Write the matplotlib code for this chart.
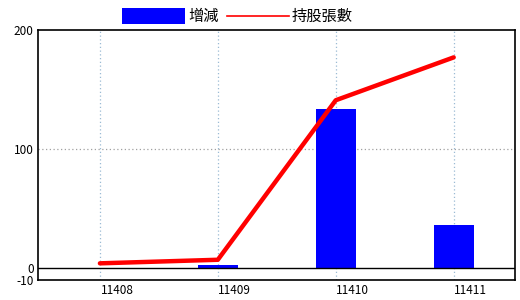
import matplotlib
matplotlib.use('Agg')
import matplotlib.pyplot as plt
import matplotlib.patches as patches
import matplotlib.transforms as mtransforms
from matplotlib.lines import Line2D

plt.rcParams['font.family'] = ['Noto Sans CJK TC', 'DejaVu Sans']

# dane
months = ['11408', '11409', '11410', '11411']
change = [0, 3, 134, 36]          # 增減
holdings = [4, 7, 141, 177]       # 持股張數
y_ticks = [-10, 0, 100, 200]

fig = plt.figure(figsize=(5.2, 3.0), dpi=100)
ax = fig.add_axes([38 / 520, 20 / 300, 477 / 520, 250 / 300])

x = list(range(len(months)))
ax.bar(x, change, width=0.34, color='#0000ff', zorder=2)
ax.plot(x, holdings, color='#ff0000', lw=3.2, zorder=3, solid_capstyle='round')

ax.set_xlim(-0.525, 3.52)
ax.set_ylim(-10, 200)
ax.axhline(0, color='black', lw=1.0, zorder=2)

# siatka
for xi in x:
    ax.axvline(xi, color='#9bbbd4', lw=0.9, ls=(0, (1, 2)), zorder=1)
ax.axhline(100, color='#a0a0a0', lw=0.9, ls=(0, (1, 2)), zorder=1)

ax.set_xticks(x)
ax.set_xticklabels(months, fontsize=8.5)
ax.set_yticks(y_ticks)
ax.set_yticklabels([str(v) for v in y_ticks], fontsize=8.5)
ax.tick_params(length=0, pad=3)
offset = mtransforms.ScaledTranslation(17 / 100, 0, fig.dpi_scale_trans)
for lbl in ax.get_xticklabels():
    lbl.set_transform(lbl.get_transform() + offset)

for s in ax.spines.values():
    s.set_color('black')
    s.set_linewidth(1.2)

# legenda (rysowana ręcznie)
fig.patches.append(patches.Rectangle((122 / 520, 1 - 24 / 300), 63 / 520, 16 / 300,
                                     transform=fig.transFigure, facecolor='#0000ff',
                                     edgecolor='none'))
fig.text(188 / 520, 1 - 16 / 300, '增減', fontsize=11, va='center', ha='left')
fig.lines.append(Line2D([227 / 520, 289 / 520], [1 - 16 / 300, 1 - 16 / 300],
                        transform=fig.transFigure, color='#ff0000', lw=1.2))
fig.text(292 / 520, 1 - 16 / 300, '持股張數', fontsize=11, va='center', ha='left')

plt.savefig('out.png', dpi=100)
plt.close()
